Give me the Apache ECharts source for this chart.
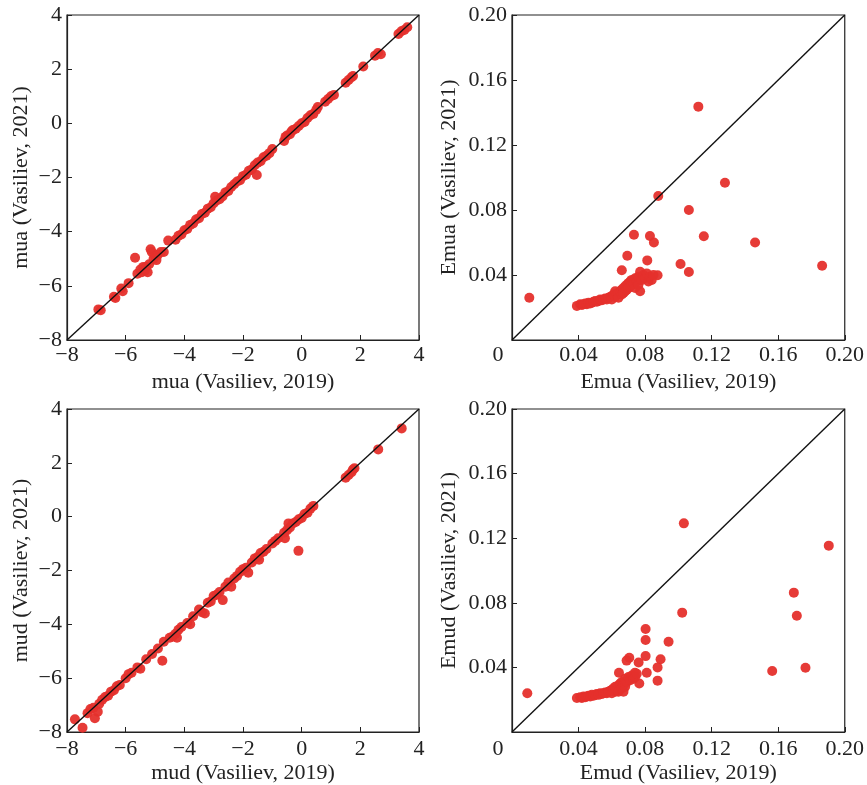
<!DOCTYPE html>
<html><head><meta charset="utf-8">
<script src="https://cdn.jsdelivr.net/npm/echarts@6/dist/echarts.min.js"></script>
<style>html,body{margin:0;padding:0;background:#fff}#c{width:867px;height:785px}</style>
</head><body><div id="c"></div>
<script>
// ---- Panel a: mua ----
const muaX = [-6.93,-6.85,-6.4,-6.35,-6.15,-6.1,-5.9,-5.68,-5.6,-5.5,-5.45,-5.4,-5.35,-5.3,-5.25,-5.2,-5.15,-5.11,-5.05,-5.0,-4.95,-4.9,-4.8,-4.7,-4.55,-4.3,-4.2,-4.1,-4.0,-3.9,-3.8,-3.7,-3.6,-3.5,-3.4,-3.3,-3.2,-3.1,-3.0,-2.95,-2.9,-2.8,-2.7,-2.6,-2.5,-2.4,-2.3,-2.2,-2.1,-2.0,-1.9,-1.8,-1.7,-1.6,-1.53,-1.5,-1.4,-1.3,-1.2,-1.1,-1.0,-0.6,-0.55,-0.5,-0.4,-0.35,-0.3,-0.2,-0.1,0.0,0.1,0.2,0.3,0.4,0.5,0.55,0.8,0.9,1.0,1.1,1.5,1.6,1.7,1.75,2.1,2.5,2.6,2.7,3.3,3.4,3.5,3.6];
const muaY = [-6.87,-6.9,-6.4,-6.45,-6.1,-6.2,-5.9,-4.96,-5.55,-5.4,-5.5,-5.3,-5.45,-5.3,-5.5,-5.2,-4.65,-4.75,-5.0,-4.9,-5.05,-4.85,-4.75,-4.75,-4.33,-4.3,-4.15,-4.1,-3.95,-3.9,-3.75,-3.7,-3.55,-3.5,-3.35,-3.3,-3.15,-3.1,-2.95,-2.71,-2.85,-2.8,-2.7,-2.55,-2.5,-2.35,-2.25,-2.15,-2.1,-1.95,-1.9,-1.75,-1.7,-1.55,-1.91,-1.45,-1.4,-1.25,-1.2,-1.1,-0.95,-0.65,-0.5,-0.45,-0.4,-0.3,-0.25,-0.2,-0.1,0.0,0.05,0.2,0.3,0.35,0.5,0.6,0.8,0.9,1.0,1.05,1.5,1.6,1.7,1.75,2.1,2.5,2.6,2.55,3.3,3.4,3.45,3.55];

// ---- Panel b: Emua ----
const emuaX = [0.0104,0.112,0.128,0.0879,0.1063,0.0733,0.0829,0.0853,0.1153,0.1461,0.1864,0.0693,0.0813,0.1013,0.1063,0.066,0.0875,
 0.039,0.041,0.042,0.043,0.044,0.045,0.046,0.047,0.048,0.049,0.05,0.051,0.052,0.053,0.054,0.055,0.056,0.057,0.058,0.059,0.06,0.06,0.061,0.062,0.062,0.063,0.064,0.064,0.065,0.066,0.066,0.067,0.067,0.068,0.068,0.069,0.069,0.07,0.07,0.071,0.071,0.072,0.072,0.073,0.074,0.074,0.075,0.076,0.076,0.077,0.077,0.078,0.079,0.08,0.081,0.082,0.083,0.084,0.085];
const emuaY = [0.026,0.1436,0.0968,0.0886,0.08,0.0648,0.064,0.06,0.0638,0.06,0.0457,0.0519,0.049,0.0468,0.0418,0.0429,0.0398,
 0.021,0.022,0.0215,0.022,0.0225,0.022,0.023,0.0225,0.023,0.0235,0.024,0.0235,0.024,0.025,0.0245,0.025,0.0255,0.025,0.026,0.0265,0.027,0.025,0.028,0.0265,0.03,0.028,0.029,0.026,0.03,0.028,0.031,0.032,0.029,0.033,0.03,0.034,0.031,0.035,0.032,0.036,0.033,0.037,0.034,0.035,0.038,0.032,0.036,0.039,0.034,0.042,0.03,0.037,0.04,0.038,0.041,0.036,0.039,0.037,0.04];

// ---- Panel c: mud ----
const mudX = [-7.73,-7.47,-7.3,-7.2,-7.1,-7.05,-6.95,-6.9,-6.8,-6.7,-6.6,-6.5,-6.4,-6.3,-6.2,-6.0,-5.9,-5.8,-5.6,-5.5,-5.3,-5.1,-4.9,-4.75,-4.7,-4.5,-4.4,-4.3,-4.25,-4.2,-4.1,-3.9,-3.8,-3.7,-3.5,-3.4,-3.3,-3.2,-3.1,-3.0,-2.9,-2.8,-2.69,-2.6,-2.5,-2.4,-2.3,-2.2,-2.1,-2.0,-1.9,-1.82,-1.7,-1.6,-1.5,-1.45,-1.4,-1.3,-1.2,-1.0,-0.9,-0.8,-0.6,-0.57,-0.5,-0.45,-0.4,-0.3,-0.2,-0.11,-0.1,0.0,0.1,0.2,0.3,0.4,1.5,1.6,1.7,1.75,1.8,2.61,3.41];
const mudY = [-7.53,-7.84,-7.3,-7.15,-7.1,-7.49,-7.25,-6.95,-6.8,-6.7,-6.65,-6.5,-6.45,-6.3,-6.25,-6.0,-5.85,-5.8,-5.6,-5.65,-5.3,-5.1,-4.9,-5.35,-4.65,-4.5,-4.45,-4.35,-4.5,-4.2,-4.1,-3.95,-4.0,-3.7,-3.45,-3.55,-3.6,-3.2,-3.15,-2.95,-2.9,-2.8,-3.1,-2.6,-2.45,-2.6,-2.3,-2.2,-2.05,-1.95,-1.9,-2.08,-1.7,-1.55,-1.5,-1.6,-1.35,-1.3,-1.2,-1.0,-0.9,-0.8,-0.6,-0.8,-0.5,-0.25,-0.4,-0.25,-0.2,-1.27,-0.1,-0.05,0.1,0.15,0.3,0.4,1.45,1.55,1.65,1.75,1.8,2.5,3.28];

// ---- Panel d: Emud ----
const emudX = [0.0092,0.1033,0.1904,0.1694,0.1712,0.1023,0.1564,0.1764,0.0941,0.0803,0.0803,0.0803,0.0893,0.0875,0.0875,0.081,0.0705,0.0689,0.0761,0.0643,0.0765,0.0739,
 0.039,0.041,0.042,0.043,0.044,0.045,0.046,0.047,0.048,0.049,0.05,0.051,0.052,0.053,0.054,0.055,0.056,0.057,0.058,0.059,0.06,0.06,0.061,0.062,0.062,0.063,0.064,0.064,0.065,0.066,0.066,0.067,0.067,0.068,0.068,0.069,0.07,0.071,0.072,0.073,0.074,0.075];
const emudY = [0.024,0.1292,0.1154,0.0863,0.072,0.0739,0.0378,0.0398,0.0559,0.0638,0.057,0.047,0.045,0.04,0.0318,0.0367,0.046,0.0442,0.043,0.0367,0.030,0.0367,
 0.021,0.0215,0.021,0.022,0.0215,0.022,0.0225,0.022,0.023,0.0225,0.023,0.0235,0.023,0.024,0.0235,0.024,0.0245,0.024,0.025,0.0255,0.026,0.024,0.027,0.025,0.028,0.026,0.029,0.025,0.03,0.027,0.031,0.029,0.025,0.033,0.028,0.031,0.034,0.032,0.035,0.033,0.034,0.036];

// axis ranges and tick steps
const muRange = [-8, 4], muStep = 2;
const eRange = [0, 0.2], eStep = 0.04;

const axisNames = [
  ['mua (Vasiliev, 2019)', 'mua (Vasiliev, 2021)'],
  ['Emua (Vasiliev, 2019)', 'Emua (Vasiliev, 2021)'],
  ['mud (Vasiliev, 2019)', 'mud (Vasiliev, 2021)'],
  ['Emud (Vasiliev, 2019)', 'Emud (Vasiliev, 2021)']
];

const FONT = '"Liberation Serif","Times New Roman",serif';
const TXT = '#222';
const RED = '#e5302c';

const pair = (xs, ys) => xs.map((x, i) => [x, ys[i]]);
const muFmt = v => (v < 0 ? '\u2212' + (-v) : String(v));
const eFmtX = v => (Math.abs(v) < 1e-9 ? '{z|0}' : v.toFixed(2));
const eFmtY = v => (Math.abs(v) < 1e-9 ? '' : v.toFixed(2));

const grids = [
  {left: 67, top: 15, width: 352, height: 325},
  {left: 512, top: 15, width: 333, height: 325},
  {left: 67, top: 409, width: 352, height: 323},
  {left: 512, top: 409, width: 333, height: 323}
];
const isMu = [true, false, true, false];
const xNameGap = [31, 31, 30, 30];
const yNameGap = [35, 52, 35, 52];
const xLabelMargin = [4, 4, 6, 6];

const xAxis = [], yAxis = [], series = [];
const sets = [pair(muaX, muaY), pair(emuaX, emuaY), pair(mudX, mudY), pair(emudX, emudY)];
for (let i = 0; i < 4; i++) {
  const r = isMu[i] ? muRange : eRange;
  const st = isMu[i] ? muStep : eStep;
  const common = {
    type: 'value', gridIndex: i, min: r[0], max: r[1], interval: st,
    nameLocation: 'middle',
    nameTextStyle: {fontFamily: FONT, fontSize: 22, color: TXT},
    axisLine: {show: true, onZero: false, lineStyle: {color: '#222', width: 1.2}},
    axisTick: {show: true, inside: true, length: 5, lineStyle: {color: '#222'}},
    splitLine: {show: false}
  };
  xAxis.push(Object.assign({}, common, {
    name: axisNames[i][0], nameGap: xNameGap[i],
    axisLabel: {
      fontFamily: FONT, fontSize: 22, color: TXT, margin: xLabelMargin[i],
      formatter: isMu[i] ? muFmt : eFmtX,
      rich: {z: {fontFamily: FONT, fontSize: 22, color: TXT, padding: [0, 28, 0, 0]}}
    }
  }));
  yAxis.push(Object.assign({}, common, {
    name: axisNames[i][1], nameGap: yNameGap[i],
    axisLabel: {fontFamily: FONT, fontSize: 22, color: TXT, margin: 5,
      formatter: isMu[i] ? muFmt : eFmtY}
  }));
  series.push({
    type: 'line', xAxisIndex: i, yAxisIndex: i,
    data: [[r[0], r[0]], [r[1], r[1]]], symbol: 'none', silent: true,
    lineStyle: {color: '#111', width: 1.4}, z: 3
  });
  series.push({
    type: 'scatter', xAxisIndex: i, yAxisIndex: i, data: sets[i],
    symbolSize: 10, itemStyle: {color: RED, opacity: 0.95}, z: 2
  });
}

const grid = grids.map(g => Object.assign({show: true, borderColor: '#222', borderWidth: 1.2, backgroundColor: '#fff'}, g));

const chart = echarts.init(document.getElementById('c'), null, {renderer: 'canvas'});
chart.setOption({animation: false, backgroundColor: '#fff', grid, xAxis, yAxis, series});
</script></body></html>
